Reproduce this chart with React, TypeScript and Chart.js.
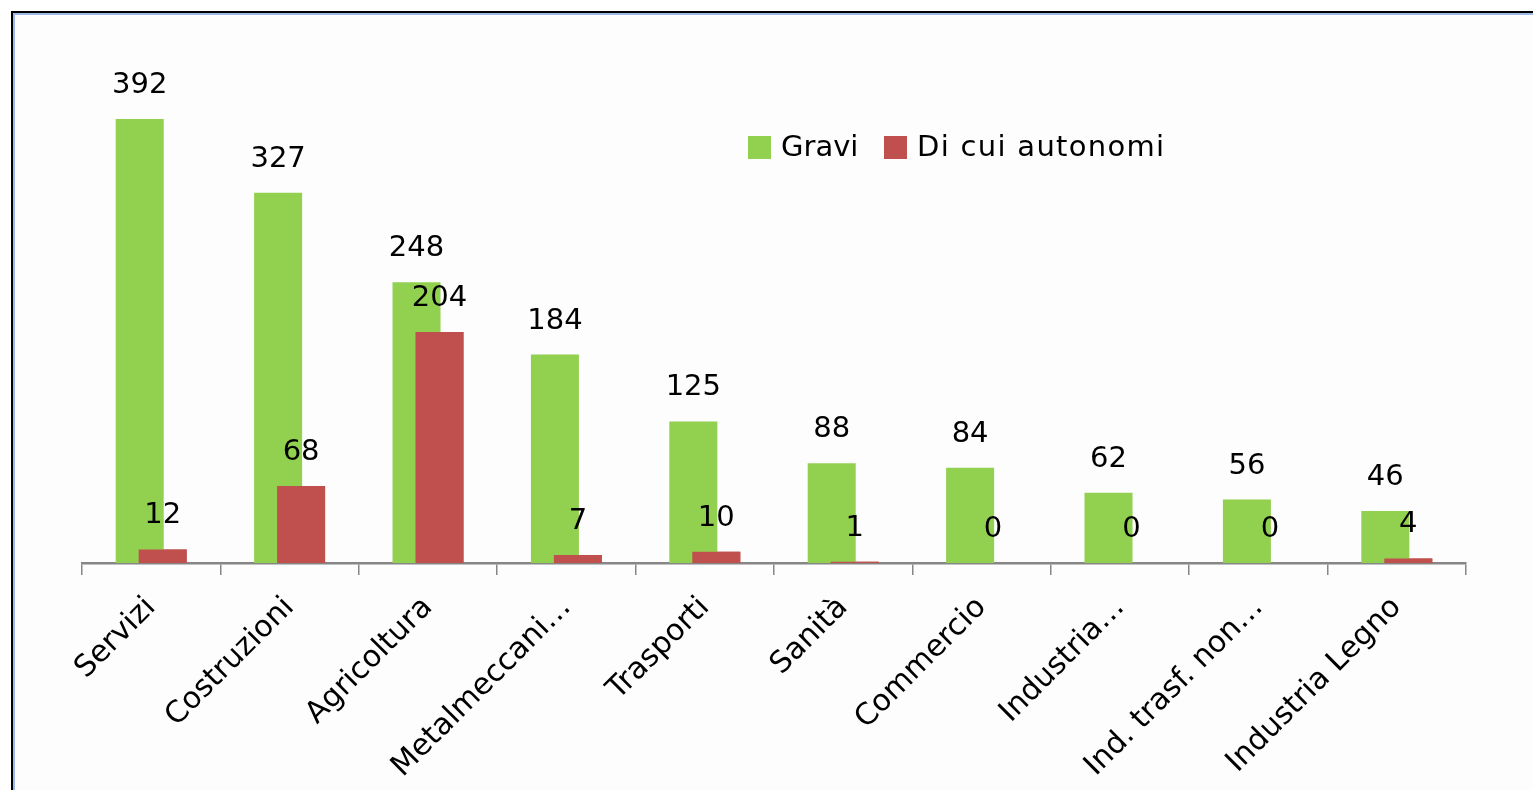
import React, { useEffect, useRef } from "react";
import { Chart, registerables } from "chart.js";

Chart.register(...registerables);

const categories = [
  "Servizi",
  "Costruzioni",
  "Agricoltura",
  "Metalmeccani…",
  "Trasporti",
  "Sanità",
  "Commercio",
  "Industria…",
  "Ind. trasf. non…",
  "Industria Legno",
];
const gravi = [392, 327, 248, 184, 125, 88, 84, 62, 56, 46];
const autonomi = [12, 68, 204, 7, 10, 1, 0, 0, 0, 4];
const seriesNames = ["Gravi", "Di cui autonomi"];
const seriesColors = ["#92D050", "#C0504D"];

const FONT = "'DejaVu Sans', sans-serif";

const overlapPlugin = {
  id: "overlapRedraw",
  afterDatasetsDraw(chart: any) {
    const meta = chart.getDatasetMeta(1);
    if (meta && meta.controller) meta.controller.draw();
  },
};

const valueLabels = {
  id: "valueLabels",
  afterDraw(chart: any) {
    const ctx = chart.ctx;
    ctx.save();
    ctx.font = `29px ${FONT}`;
    ctx.fillStyle = "#000";
    ctx.textAlign = "center";
    ctx.textBaseline = "alphabetic";
    chart.data.datasets.forEach((ds: any, di: number) => {
      const meta = chart.getDatasetMeta(di);
      meta.data.forEach((el: any, i: number) => {
        ctx.fillText(String(ds.data[i]), el.x, el.y - 26);
      });
    });
    ctx.restore();
  },
};

const customLegend = {
  id: "customLegend",
  afterDraw(chart: any) {
    const ctx = chart.ctx;
    ctx.save();
    ctx.font = `29px ${FONT}`;
    ctx.textBaseline = "middle";
    ctx.textAlign = "left";
    const pos = [748, 884];
    const yMid = 147;
    chart.data.datasets.forEach((ds: any, i: number) => {
      const x = pos[i];
      ctx.fillStyle = ds.backgroundColor;
      ctx.fillRect(x, yMid - 11, 23, 23);
      ctx.fillStyle = "#000";
      if (i === 1) (ctx as any).letterSpacing = "1.3px";
      ctx.fillText(ds.label, x + 33, yMid + 1);
      (ctx as any).letterSpacing = "0px";
    });
    ctx.restore();
  },
};

export default function App() {
  const ref = useRef<HTMLCanvasElement | null>(null);

  useEffect(() => {
    if (!ref.current) return;
    const chart = new Chart(ref.current, {
      type: "bar",
      data: {
        labels: categories,
        datasets: [
          {
            label: seriesNames[0],
            data: gravi,
            backgroundColor: seriesColors[0],
            categoryPercentage: 0.332,
            barPercentage: 2.09,
          },
          {
            label: seriesNames[1],
            data: autonomi,
            backgroundColor: seriesColors[1],
            categoryPercentage: 0.332,
            barPercentage: 2.09,
          },
        ],
      },
      options: {
        responsive: false,
        animation: false,
        layout: { padding: { left: 82, right: 67, top: 110, bottom: 0 } },
        plugins: {
          legend: { display: false },
          tooltip: { enabled: false },
        },
        scales: {
          y: {
            display: false,
            min: 0,
            max: 400,
          },
          x: {
            afterFit: (scale: any) => {
              scale.height = 227;
            },
            grid: {
              display: true,
              drawOnChartArea: false,
              drawTicks: true,
              tickLength: 12,
              color: "#868686",
              lineWidth: 1.5,
              offset: true,
            },
            border: { display: true, color: "#868686", width: 2.5 },
            ticks: {
              color: "#000",
              font: { family: FONT, size: 30 },
              minRotation: 45,
              maxRotation: 45,
              autoSkip: false,
              padding: 15,
            },
          },
        },
      },
      plugins: [overlapPlugin, valueLabels, customLegend],
    });
    return () => chart.destroy();
  }, []);

  return (
    <div
      style={{
        position: "fixed",
        left: 0,
        top: 0,
        width: 1533,
        height: 790,
        overflow: "hidden",
        background: "#FFFFFF",
      }}
    >
      <div
        style={{
          position: "absolute",
          left: 11,
          top: 11,
          width: 1600,
          height: 900,
          borderLeft: "2px solid #000",
          borderTop: "2px solid #000",
        }}
      >
        <div
          style={{
            position: "absolute",
            left: 0,
            top: 0,
            right: 0,
            bottom: 0,
            borderLeft: "2px solid #9DB9E8",
            borderTop: "2px solid #9DB9E8",
            background: "#FDFDFD",
          }}
        />
      </div>
      <canvas
        ref={ref}
        width={1533}
        height={790}
        style={{ position: "absolute", left: 0, top: 0, width: 1533, height: 790 }}
      />
    </div>
  );
}
